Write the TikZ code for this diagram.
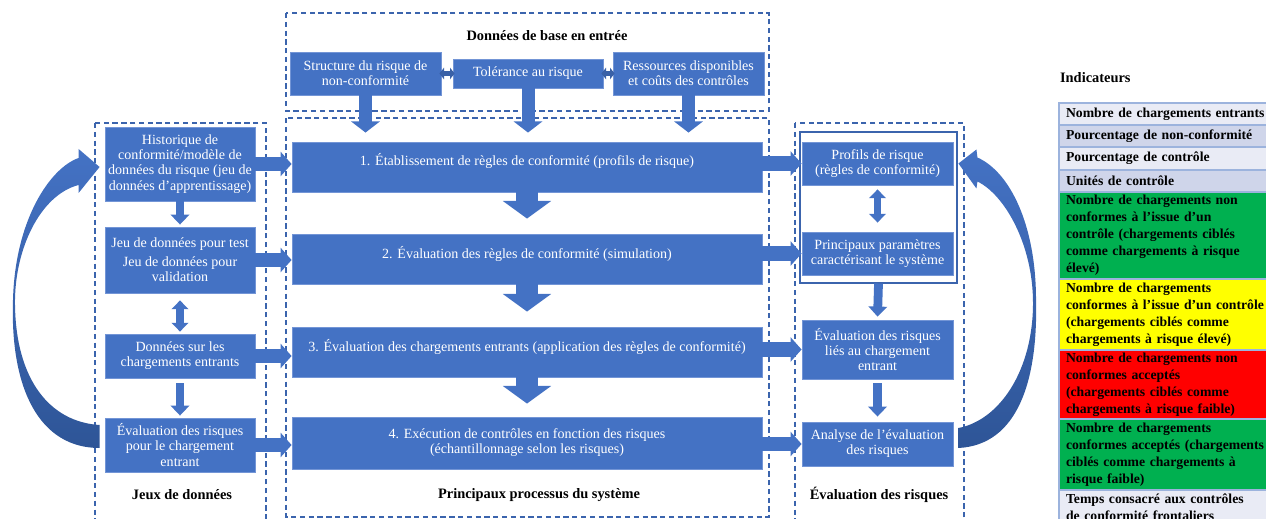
\documentclass[tikz,border=0pt]{standalone}
\usepackage{fontspec}
\setmainfont{Liberation Serif}
\usetikzlibrary{arrows.meta, positioning, calc, fit}
\definecolor{boxblue}{HTML}{4472C4}
\definecolor{boxedge}{HTML}{7395D6}
\definecolor{dashblue}{HTML}{3B64AD}
\definecolor{loopdark}{HTML}{2E5597}
\definecolor{rowlight}{HTML}{E9EBF5}
\definecolor{rowdark}{HTML}{CFD5EA}
\definecolor{rowline}{HTML}{9CB3DD}
\definecolor{rowgreen}{HTML}{00B050}
\definecolor{rowyellow}{HTML}{FFFF00}
\definecolor{rowred}{HTML}{FF0000}
\newcommand{\bxfont}{\fontsize{8}{8.6}\selectfont}
\newcommand{\tblfont}{\fontsize{7.8}{9.7}\selectfont\bfseries}

\begin{document}
\begin{tikzpicture}[x=0.02cm, y=-0.02cm,
    bluebox/.style={fill=boxblue, draw=boxedge, line width=0.5pt, text=white, align=center, inner sep=0pt, font=\bxfont},
    colbox/.style={bluebox, minimum width=3.0cm},
    procbox/.style={bluebox, minimum width=9.4cm, minimum height=1.0cm},
    grpbox/.style={draw=dashblue, dash pattern=on 3pt off 2pt, line width=0.6pt},
    grptitle/.style={font=\fontsize{8.2}{9}\selectfont\bfseries, inner sep=1pt},
    flowarrow/.style={draw=boxblue, line width=13pt, -{Triangle[width=27pt,length=10pt]}},
    feedarrow/.style={draw=boxblue, line width=7.4pt, -{Triangle[width=16pt,length=6.3pt]}},
    linkarrow/.style={draw=boxblue, line width=8pt, -{Triangle[width=13.7pt,length=6.3pt]}},
    colarrow/.style={draw=boxblue, line width=5pt, -{Triangle[width=10.5pt,length=5.7pt]}},
    twoway/.style={draw=boxblue, line width=4pt, {Triangle[width=9.5pt,length=5pt]}-{Triangle[width=9.5pt,length=5pt]}},
    twowaysmall/.style={draw=boxblue!85!black, line width=2.4pt, {Triangle[width=6.5pt,length=2.6pt]}-{Triangle[width=6.5pt,length=2.6pt]}},
    loopshade/.style={top color=boxblue, bottom color=loopdark},
    rowbox/.style={draw=rowline, line width=0.8pt, outer sep=0pt, inner xsep=4pt, inner ysep=0pt, text width=129pt, align=left, font=\tblfont}]
  \useasboundingbox (0,0) rectangle (1266,519);
  \clip (0,0) rectangle (1266,519);

  % Cadres en pointillés
  \draw[grpbox] (286,13) rectangle (769,111);
  \draw[grpbox] (286,118) rectangle (769,517);
  \draw[grpbox] (95,123) rectangle (266,530);
  \draw[grpbox] (795,123) rectangle (964,530);

  % Titres des groupes
  \node[grptitle] (ttop) at (547,36) {Données de base en entrée};
  \node[grptitle] (tleft) at (182,495) {Jeux de données};
  \node[grptitle] (tmain) at (539,495) {Principaux processus du système};
  \node[grptitle] (tright) at (879,495) {Évaluation des risques};

  % Données de base
  \node[colbox, minimum width=3.02cm, minimum height=0.86cm] (t1) at (365.5,73.5) {Structure du risque de\\non-conformité};
  \node[colbox, minimum height=0.58cm] (t2) at (528,73.5) {Tolérance au risque};
  \node[colbox, minimum width=3.02cm, minimum height=0.86cm] (t3) at (688.5,73.5) {Ressources disponibles\\et coûts des contrôles};

  % Processus
  \node[procbox, text depth=8pt] (p1) at (527,167) {1. Établissement de règles de conformité (profils de risque)};
  \node[procbox, text depth=7pt] (p2) at (527,259) {2. Évaluation des règles de conformité (simulation)};
  \node[procbox, text depth=8pt] (p3) at (527,352) {3. Évaluation des chargements entrants (application des règles de conformité)};
  \node[procbox, minimum height=1.04cm] (p4) at (527,443) {4. Exécution de contrôles en fonction des risques\\(échantillonnage selon les risques)};

  % Jeux de données
  \node[colbox, minimum height=1.48cm] (h1) at (180,164) {Historique de\\conformité/modèle de\\données du risque (jeu de\\données d’apprentissage)};
  \node[colbox, minimum height=1.32cm] (h2) at (180,260) {Jeu de données pour test\\[2pt]Jeu de données pour\\validation};
  \node[colbox, minimum height=0.88cm] (h3) at (180,356) {Données sur les\\chargements entrants};
  \node[colbox, minimum height=1.08cm] (h4) at (180,445) {Évaluation des risques\\pour le chargement\\entrant};

  % Évaluation des risques
  \node[draw=dashblue, line width=0.6pt, inner sep=0pt, fit={(800,132)(957,283)}] (rf) {};
  \node[colbox, minimum width=3.02cm, minimum height=0.86cm] (r1) at (877.5,163.5) {Profils de risque\\(règles de conformité)};
  \node[colbox, minimum width=3.02cm, minimum height=0.86cm] (r2) at (877.5,253.5) {Principaux paramètres\\caractérisant le système};
  \node[colbox, minimum width=3.02cm, minimum height=1.18cm] (r3) at (877.5,349.5) {Évaluation des risques\\liés au chargement\\entrant};
  \node[colbox, minimum width=3.02cm, minimum height=0.88cm] (r4) at (877.5,444) {Analyse de l’évaluation\\des risques};

  % Flèches du haut
  \draw[twowaysmall] ($(t1.east)+(-2,0)$) -- ($(t2.west)+(2,0)$);
  \draw[twowaysmall] ($(t2.east)+(-2,0)$) -- ($(t3.west)+(2,0)$);
  \draw[feedarrow] (t1.south) -- ($(t1.south |- p1.north)+(0,-9)$);
  \draw[feedarrow] (t2.south) -- ($(t2.south |- p1.north)+(0,-9)$);
  \draw[feedarrow] (t3.south) -- ($(t3.south |- p1.north)+(0,-9)$);

  % Flèches entre processus
  \draw[flowarrow] (p1.south) -- ($(p2.north)+(0,-15)$);
  \draw[flowarrow] (p2.south) -- ($(p3.north)+(0,-15)$);
  \draw[flowarrow] (p3.south) -- ($(p4.north)+(0,-13)$);

  % Entrées et sorties
  \draw[linkarrow] (h1.east) -- (h1.east -| p1.west);
  \draw[linkarrow] (h2.east) -- (h2.east -| p2.west);
  \draw[linkarrow] (h3.east) -- (h3.east -| p3.west);
  \draw[linkarrow] (h4.east) -- (h4.east -| p4.west);
  \draw[linkarrow] (r1.west -| p1.east) -- (r1.west);
  \draw[linkarrow] (r2.west -| p2.east) -- (r2.west);
  \draw[linkarrow] (r3.west -| p3.east) -- (r3.west);
  \draw[linkarrow] (r4.west -| p4.east) -- (r4.west);

  % Flèches dans les colonnes
  \draw[colarrow] (h1.south) -- ($(h2.north)+(0,-2)$);
  \draw[twoway] ($(h2.south)+(0,7)$) -- ($(h3.north)+(0,-2)$);
  \draw[colarrow] ($(h3.south)+(0,5)$) -- ($(h4.north)+(0,-2)$);
  \draw[twoway] ($(r1.south)+(0,4)$) -- ($(r2.north)+(0,-9)$);
  \draw[colarrow] (rf.south) -- ($(r3.north)+(0,-3)$);
  \draw[colarrow] ($(r3.south)+(0,4)$) -- ($(r4.north)+(0,-5)$);

  % Boucles de retour
  \coordinate (lt) at ($(h1.west)+(-5,3)$);
  \shade[loopshade] (lt) -- ($(lt)+(-21,-18)$) -- ($(lt)+(-21,-9)$)
    .. controls (50,168) and (15,220) .. (13,300)
    .. controls (10,390) and (40,448) .. ($(h4.west)+(-5,3)$)
    -- ($(h4.west)+(-5,-20)$)
    .. controls (50,422) and (16,380) .. (15,305)
    .. controls (14,250) and (40,195) .. ($(lt)+(-21,18)$)
    -- ($(lt)+(-21,26)$) -- cycle;
  \coordinate (rt) at ($(r1.east)+(5,0)$);
  \shade[loopshade] (rt) -- ($(rt)+(18,-14)$) -- ($(rt)+(19,-6)$)
    .. controls (1010,172) and (1036,225) .. (1036,300)
    .. controls (1038,380) and (1018,445) .. ($(r4.east)+(5,4)$)
    -- ($(r4.east)+(5,-16)$)
    .. controls (1000,420) and (1033,370) .. (1033,303)
    .. controls (1033,245) and (1005,195) .. ($(rt)+(19,18)$)
    -- ($(rt)+(18,25)$) -- cycle;

  % Indicateurs
  \node[grptitle, anchor=west] (tind) at (1058,78) {Indicateurs};
  \node[rowbox, fill=rowlight, minimum height=0.44cm, anchor=north west] (i1) at (1059,103) {Nombre de chargements entrants};
  \node[rowbox, fill=rowdark, minimum height=0.44cm, below=0pt of i1] (i2) {Pourcentage de non-conformité};
  \node[rowbox, fill=rowlight, minimum height=0.46cm, below=0pt of i2] (i3) {Pourcentage de contrôle};
  \node[rowbox, fill=rowdark, minimum height=0.44cm, below=0pt of i3] (i4) {Unités de contrôle};
  \node[rowbox, fill=rowgreen, minimum height=1.74cm, below=0pt of i4] (i5) {Nombre de chargements non\\conformes à l’issue d’un\\contrôle (chargements ciblés\\comme chargements à risque\\élevé)};
  \node[rowbox, fill=rowyellow, minimum height=1.42cm, below=0pt of i5] (i6) {Nombre de chargements\\conformes à l’issue d’un contrôle\\(chargements ciblés comme\\chargements à risque élevé)};
  \node[rowbox, fill=rowred, minimum height=1.38cm, below=0pt of i6] (i7) {Nombre de chargements non\\conformes acceptés\\(chargements ciblés comme\\chargements à risque faible)};
  \node[rowbox, fill=rowgreen, minimum height=1.42cm, below=0pt of i7] (i8) {Nombre de chargements\\conformes acceptés (chargements\\ciblés comme chargements à\\risque faible)};
  \node[rowbox, fill=rowlight, minimum height=0.7cm, below=0pt of i8] (i9) {Temps consacré aux contrôles\\de conformité frontaliers};
\end{tikzpicture}
\end{document}
